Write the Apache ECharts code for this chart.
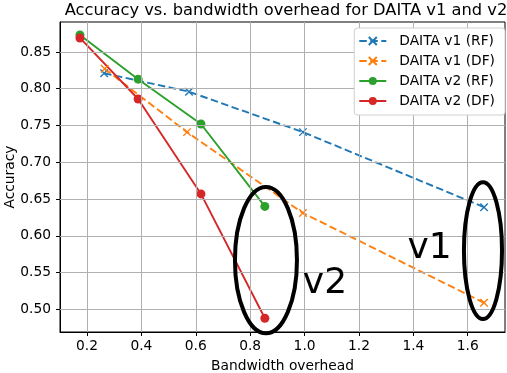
<!DOCTYPE html>
<html><head><meta charset="utf-8">
<script src="https://cdn.jsdelivr.net/npm/echarts@6/dist/echarts.min.js"></script>
<style>html,body{margin:0;padding:0;background:#fff}#c{width:507px;height:373px}</style>
</head><body><div id="c"></div>
<script>
const v1rfX = [0.263, 0.575, 0.994, 1.66];
const v1rfY = [0.821, 0.796, 0.741, 0.639];
const v1dfX = [0.265, 0.568, 0.994, 1.66];
const v1dfY = [0.827, 0.741, 0.631, 0.509];
const v2rfX = [0.174, 0.388, 0.619, 0.854];
const v2rfY = [0.873, 0.813, 0.752, 0.640];
const v2dfX = [0.174, 0.388, 0.619, 0.854];
const v2dfY = [0.869, 0.786, 0.657, 0.488];
const xTicks = [0.2, 0.4, 0.6, 0.8, 1.0, 1.2, 1.4, 1.6];
const yTicks = [0.50, 0.55, 0.60, 0.65, 0.70, 0.75, 0.80, 0.85];
// annotation ellipses: [cx, cy, rx, ry] in data units, and labels [x, y, text]
const ellipses = [[0.858, 0.567, 0.114, 0.0995], [1.656, 0.580, 0.070, 0.093]];
const notes = [[1.075, 0.535, 'v2'], [1.46, 0.583, 'v1']];

const F = 'DejaVu Sans';
const FS = 13.8;
const zip = (a, b) => a.map((x, i) => [x, b[i]]);
const cross = 'path://M0,0L10,10M10,0L0,10';
function lineSeries(name, xs, ys, color, dashed) {
  return {
    name, type: 'line', data: zip(xs, ys),
    symbol: dashed ? cross : 'circle',
    symbolSize: dashed ? 7.5 : 9,
    showAllSymbol: true,
    lineStyle: {color, width: 1.9, type: dashed ? [7.5, 3.5] : 'solid'},
    itemStyle: {color, borderColor: color, borderWidth: dashed ? 1.4 : 0},
    emphasis: {disabled: true}, animation: false, z: 3
  };
}
const gridLines = xTicks.map(v => ({xAxis: v})).concat(yTicks.map(v => ({yAxis: v})));
const chart = echarts.init(document.getElementById('c'));
chart.setOption({
  animation: false,
  title: {text: 'Accuracy vs. bandwidth overhead for DAITA v1 and v2', left: 281, textAlign: 'center', top: -2,
    textStyle: {fontFamily: F, fontSize: 16.3, fontWeight: 'normal', color: '#000'}},
  grid: {left: 60, right: 2, top: 22, bottom: 41, show: true, borderColor: '#000', borderWidth: 1,
    containLabel: false, outerBoundsMode: 'none'},
  legend: {
    orient: 'vertical', right: 2, top: 28, itemWidth: 27, itemHeight: 10, itemGap: 6, z: 10,
    backgroundColor: '#fff', borderColor: '#d0d0d0', borderWidth: 1, borderRadius: 3,
    padding: [6, 10, 7, 4],
    textStyle: {fontFamily: F, fontSize: FS, color: '#000', padding: [0, 0, 0, 8]},
    data: ['DAITA v1 (RF)', 'DAITA v1 (DF)', 'DAITA v2 (RF)', 'DAITA v2 (DF)']
  },
  xAxis: {
    type: 'value', min: 0.1007, max: 1.737,
    name: 'Bandwidth overhead', nameLocation: 'middle', nameGap: 27,
    nameTextStyle: {fontFamily: F, fontSize: FS, color: '#000'},
    axisLine: {lineStyle: {color: '#000'}},
    axisTick: {show: true, length: 4, lineStyle: {color: '#000'}, customValues: xTicks},
    axisLabel: {fontFamily: F, fontSize: FS, color: '#000', margin: 7, customValues: xTicks,
      formatter: v => v.toFixed(1)},
    splitLine: {show: false}
  },
  yAxis: {
    type: 'value', min: 0.4693, max: 0.8907,
    name: 'Accuracy', nameLocation: 'middle', nameGap: 43, nameRotate: 90, nameMoveOverlap: false,
    nameTextStyle: {fontFamily: F, fontSize: FS, color: '#000'},
    axisLine: {show: true, lineStyle: {color: '#000'}},
    axisTick: {show: true, length: 4, lineStyle: {color: '#000'}, customValues: yTicks},
    axisLabel: {fontFamily: F, fontSize: FS, color: '#000', margin: 9, customValues: yTicks,
      formatter: v => v.toFixed(2)},
    splitLine: {show: false}
  },
  series: [
    {
      type: 'line', data: [], z: 1, silent: true,
      markLine: {silent: true, symbol: 'none', animation: false, label: {show: false},
        lineStyle: {color: '#b0b0b0', width: 1, type: 'solid'}, emphasis: {disabled: true},
        data: gridLines}
    },
    lineSeries('DAITA v1 (RF)', v1rfX, v1rfY, '#1f77b4', true),
    lineSeries('DAITA v1 (DF)', v1dfX, v1dfY, '#ff7f0e', true),
    lineSeries('DAITA v2 (RF)', v2rfX, v2rfY, '#2ca02c', false),
    lineSeries('DAITA v2 (DF)', v2dfX, v2dfY, '#d62728', false),
    {
      type: 'custom', data: ellipses, z: 5, silent: true, clip: false,
      renderItem: (params, api) => {
        const c = api.coord([api.value(0), api.value(1)]);
        const s = api.size([api.value(2), api.value(3)]);
        return {type: 'ellipse', shape: {cx: c[0], cy: c[1], rx: s[0], ry: s[1]},
          style: {fill: 'none', stroke: '#000', lineWidth: 4}};
      }
    },
    {
      type: 'custom', data: notes, z: 5, silent: true, clip: false,
      renderItem: (params, api) => {
        const c = api.coord([api.value(0), api.value(1)]);
        return {type: 'text', x: c[0], y: c[1],
          style: {text: notes[params.dataIndex][2], fontFamily: F, fontSize: 36, fill: '#000',
            align: 'center', verticalAlign: 'middle'}};
      }
    }
  ]
});
</script></body></html>
